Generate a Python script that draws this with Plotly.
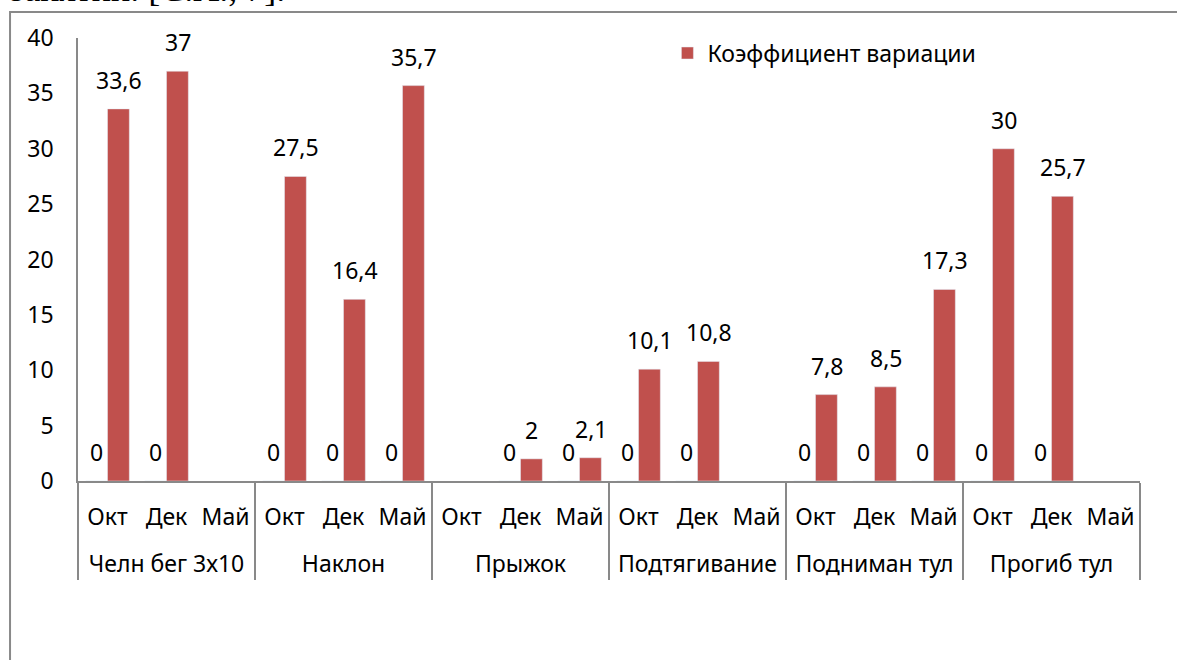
import plotly.graph_objects as go

# categories
groups = ["Челн бег 3х10", "Наклон", "Прыжок", "Подтягивание", "Подниман тул", "Прогиб тул"]
months = ["Окт", "Дек", "Май"]

# hidden first series (all zeros, shown only as "0" labels)
zero_vals = [0, 0, None, 0, 0, 0, None, 0, 0, 0, 0, None, 0, 0, 0, 0, 0, None]
# Коэффициент вариации
coef_vals = [33.6, 37, None, 27.5, 16.4, 35.7, None, 2, 2.1, 10.1, 10.8, None, 7.8, 8.5, 17.3, 30, 25.7, None]

x_groups = [g for g in groups for m in months]
x_months = [m for g in groups for m in months]

FONT = "Noto Sans"
GRAY = "#898989"
RED = "#C0504D"


def fmt(v):
    return ("%g" % v).replace(".", ",")


fig = go.Figure()
fig.add_trace(go.Bar(x=[x_groups, x_months], y=zero_vals, name="Ряд 1",
                     marker_color="rgba(0,0,0,0)", showlegend=False, hoverinfo="skip"))
fig.add_trace(go.Bar(x=[x_groups, x_months], y=coef_vals, name="Коэффициент вариации",
                     marker_color=RED))

annots = []
for i, (z, c) in enumerate(zip(zero_vals, coef_vals)):
    if z is not None:
        annots.append(dict(x=i, y=z, xref="x", yref="y", text=fmt(z), showarrow=False,
                           xshift=-11, yshift=11, yanchor="bottom",
                           font=dict(family=FONT, size=23, color="black")))
    if c is not None:
        annots.append(dict(x=i, y=c, xref="x", yref="y", text=fmt(c), showarrow=False,
                           xshift=11, yshift=11, yanchor="bottom",
                           font=dict(family=FONT, size=23, color="black")))

# cut-off line of document text above the chart
annots.append(dict(x=0.1968, y=1.061, xref="paper", yref="paper", xanchor="right", yanchor="bottom",
                   text="занятий. [С.А., 7].", showarrow=False,
                   font=dict(family="Liberation Serif", size=36, color="black")))

fig.update_layout(
    width=1177, height=660,
    margin=dict(l=78, r=37, t=38, b=179),
    paper_bgcolor="white", plot_bgcolor="white",
    barmode="group", bargap=0.26, bargroupgap=0,
    font=dict(family=FONT, size=23, color="black"),
    legend=dict(x=0.555, y=0.966, xanchor="left", yanchor="middle",
                font=dict(family=FONT, size=23), bgcolor="rgba(0,0,0,0)"),
    annotations=annots,
    shapes=[dict(type="rect", xref="paper", yref="paper", x0=-0.064, x1=1.2, y0=-0.6, y1=1.0587,
                 line=dict(color=GRAY, width=2))],
)
fig.update_yaxes(range=[0, 40], dtick=5, showgrid=False, zeroline=False,
                 showline=True, linecolor=GRAY, linewidth=1.5, ticks="",
                 ticklabelstandoff=18, tickfont=dict(size=23))
fig.update_xaxes(showgrid=False, showline=True, linecolor=GRAY, linewidth=1.5,
                 ticks="outside", tickson="labels", ticklen=28, tickcolor="rgba(0,0,0,0)",
                 ticklabelstandoff=-13, showdividers=True,
                 dividercolor=GRAY, dividerwidth=2, tickfont=dict(size=23))

fig.write_html("out.html", config={"displayModeBar": False},
               post_script="document.body.style.margin='0';")
